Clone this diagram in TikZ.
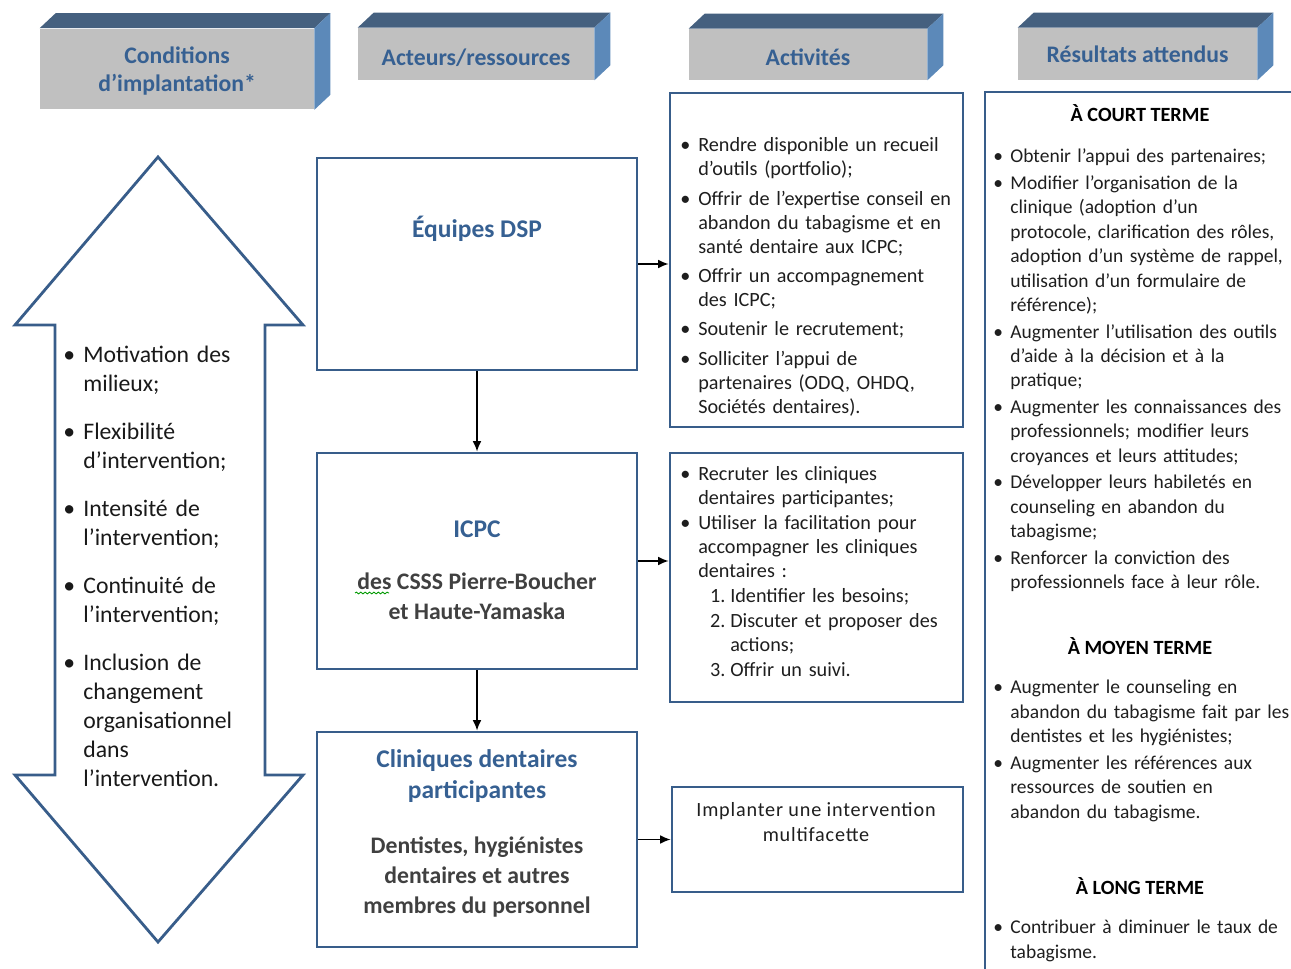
\documentclass[tikz,border=0pt]{standalone}
\usepackage{fontspec}
\setmainfont{Carlito}
\usetikzlibrary{arrows.meta,decorations.pathmorphing}

\definecolor{bordure}{RGB}{56,93,138}
\definecolor{titre}{RGB}{54,96,146}
\definecolor{gris}{RGB}{192,192,192}
\definecolor{dessus}{RGB}{69,96,127}
\definecolor{cote}{RGB}{92,137,185}
\definecolor{texte}{RGB}{30,30,30}

\newlength{\retrait}
\newcommand{\puce}{\par\hangindent=\retrait\hangafter=1\noindent\hbox to \retrait{\textbullet\hss}}
\newcommand{\rang}[1]{\par\hangindent=28.4pt\hangafter=1\noindent\hspace*{17pt}\hbox to 11.4pt{#1\hss}}

\tikzset{
  entete/.style={fill=gris, text=titre, font=\fontsize{13.5}{16}\selectfont\bfseries, align=center, inner sep=0pt, text depth=0pt},
  boite/.style={draw=bordure, line width=1.6pt, inner sep=0pt},
  titrebleu/.style={text=titre, font=\fontsize{14.5}{17.6}\selectfont\bfseries, align=center, inner sep=0pt},
  sombre/.style={text=black!75, font=\fontsize{13.5}{17}\selectfont\bfseries, align=center, inner sep=0pt},
  terme/.style={text=black, font=\fontsize{11.5}{14}\selectfont\bfseries, inner sep=0pt},
  gauche/.style={anchor=north west, inner sep=0pt, align=left, text width=4.4cm, text=black!90,
    font=\fontsize{13.5}{16.5}\selectfont,
    execute at begin node={\setlength{\retrait}{11.4pt}\setlength{\parskip}{10.8pt}}},
  activite/.style={anchor=north west, inner sep=0pt, align=left, text width=5.8cm, text=texte,
    font=\fontsize{11.5}{13.7}\selectfont,
    execute at begin node={\setlength{\retrait}{10.2pt}\setlength{\parskip}{#1}}},
  resultat/.style={anchor=north west, inner sep=0pt, align=left, text width=6.4cm, text=texte,
    font=\fontsize{11.1}{13.9}\selectfont,
    execute at begin node={\setlength{\retrait}{9.7pt}\setlength{\parskip}{1.2pt}}},
  fleche/.style={draw, -{Latex[length=6pt,width=5pt]}, line width=0.8pt, black}
}

\begin{document}
\begin{tikzpicture}[x=0.02cm, y=-0.02cm]
    \useasboundingbox (0,0) rectangle (1291,969);
    \clip (0,0) rectangle (1291,969);

    \node[entete, minimum width=5.48cm, minimum height=1.62cm] (cond) at (177,69) {Conditions\\d’implantation*};
    \node[entete, minimum width=4.72cm, minimum height=1.04cm, text height=13pt] (acteurs) at (476,54) {Acteurs/ressources};
    \node[entete, minimum width=4.76cm, minimum height=1.02cm, text height=13pt] (activ) at (808,54.5) {Activités};
    \node[entete, minimum width=4.78cm, minimum height=1.04cm] (result) at (1137.5,54) {Résultats attendus};

    \foreach \h in {cond,acteurs,activ,result}{
        \fill[dessus] (\h.north west) -- ++(16,-15) -- ([shift={(16,-15)}]\h.north east) -- (\h.north east) -- cycle;
        \fill[cote] (\h.north east) -- ++(16,-15) -- ([shift={(16,-15)}]\h.south east) -- (\h.south east) -- cycle;
    }

    \draw[bordure, line width=1.6pt] (158,157) -- (303,325) -- (265,325) -- (265,775) -- (303,775) -- (158,942)
        -- (15,775) -- (55,775) -- (55,325) -- (15,325) -- cycle;
    \node[gauche] (conditions) at (63,314) {\puce Motivation des\newline milieux;\puce Flexibilité\newline d’intervention;%
        \puce Intensité de\newline l’intervention;\puce Continuité de\newline l’intervention;%
        \puce Inclusion de\newline changement\newline organisationnel\newline dans\newline l’intervention.\par};

    \node[boite, minimum width=6.4cm, minimum height=4.24cm] (equipes) at (477,264) {};
    \node[boite, minimum width=6.4cm, minimum height=4.32cm] (icpc) at (477,561) {};
    \node[boite, minimum width=6.4cm, minimum height=4.3cm] (cliniques) at (477,839.5) {};
    \node[titrebleu] (tequipes) at (477,229) {Équipes DSP};
    \node[titrebleu] (ticpc) at (477,529) {ICPC};
    \node[sombre] (tcsss) at (477,596) {des CSSS Pierre-Boucher\\et Haute-Yamaska};
    \draw[green!60!black, line width=0.5pt, decorate, decoration={snake, amplitude=0.5pt, segment length=2.5pt}]
        (355,593) -- (389,593);
    \node[titrebleu] (tclin) at (477,776) {Cliniques dentaires\\participantes};
    \node[sombre] (tdent) at (477,877) {Dentistes, hygiénistes\\dentaires et autres\\membres du personnel};

    \node[boite, minimum width=5.86cm, minimum height=6.68cm] (act1) at (816.5,260) {};
    \node[boite, minimum width=5.86cm, minimum height=4.98cm] (act2) at (816.5,577.5) {};
    \node[boite, minimum width=5.82cm, minimum height=2.1cm] (act3) at (817.5,839.5) {};
    \node[activite=3pt] (lact1) at (680,122) {\puce Rendre disponible un recueil\newline d’outils (portfolio);%
        \puce Offrir de l’expertise conseil en\newline abandon du tabagisme et en\newline santé dentaire aux ICPC;%
        \puce Offrir un accompagnement\newline des ICPC;\puce Soutenir le recrutement;%
        \puce Solliciter l’appui de\newline partenaires (ODQ, OHDQ,\newline Sociétés dentaires).\par};
    \node[activite=0.5pt] (lact2) at (680,455) {\puce Recruter les cliniques\newline dentaires participantes;%
        \puce Utiliser la facilitation pour\newline accompagner les cliniques\newline dentaires~:%
        \rang{1.}Identifier les besoins;\rang{2.}Discuter et proposer des\newline actions;\rang{3.}Offrir un suivi.\par};
    \node[text=texte, font=\fontsize{11.5}{13.9}\selectfont\addfontfeatures{LetterSpace=4}, align=center, inner sep=0pt]
        (lact3) at (816,822) {Implanter une intervention\\multifacette};

    \node[boite, minimum width=6.7cm, minimum height=18.16cm] (resultats) at (1152.5,546) {};
    \node[terme] (court) at (1140,113) {À COURT TERME};
    \node[resultat] (lcourt) at (993,136) {\puce Obtenir l’appui des partenaires;%
        \puce Modifier l’organisation de la\newline clinique (adoption d’un\newline protocole, clarification des rôles,\newline adoption d’un système de rappel,\newline utilisation d’un formulaire de\newline référence);%
        \puce Augmenter l’utilisation des outils\newline d’aide à la décision et à la\newline pratique;%
        \puce Augmenter les connaissances des\newline professionnels; modifier leurs\newline croyances et leurs attitudes;%
        \puce Développer leurs habiletés en\newline counseling en abandon du\newline tabagisme;%
        \puce Renforcer la conviction des\newline professionnels face à leur rôle.\par};
    \node[terme] (moyen) at (1140,646) {À MOYEN TERME};
    \node[resultat] (lmoyen) at (993,667) {\puce Augmenter le counseling en\newline abandon du tabagisme fait par les\newline dentistes et les hygiénistes;%
        \puce Augmenter les références aux\newline ressources de soutien en\newline abandon du tabagisme.\par};
    \node[terme] (long) at (1140,886) {À LONG TERME};
    \node[resultat] (llong) at (993,907) {\puce Contribuer à diminuer le taux de\newline tabagisme.\par};

    \path
    (equipes) edge[fleche] (icpc)
    (icpc) edge[fleche] (cliniques)
    (equipes.east) edge[fleche] (equipes.east -| act1.west)
    (icpc.east) edge[fleche] (icpc.east -| act2.west)
    (cliniques.east) edge[fleche] (cliniques.east -| act3.west);
\end{tikzpicture}
\end{document}
